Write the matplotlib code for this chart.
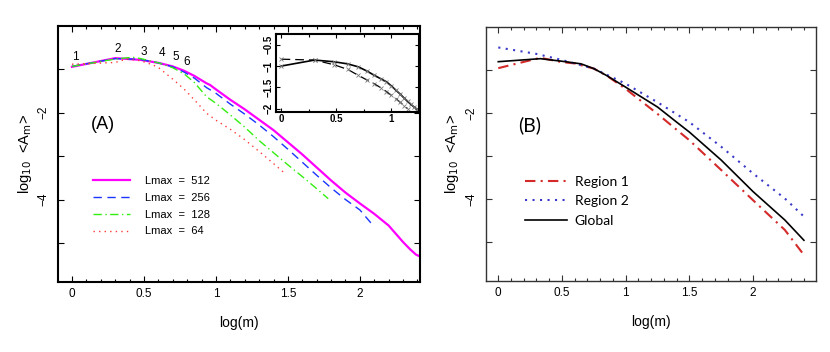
import matplotlib.pyplot as plt
import numpy as np

# ---- panel A: <A_m> for different Lmax ----
x512 = [0, 0.301, 0.477, 0.602, 0.699, 0.778, 0.85, 0.935, 0.96, 1.0, 1.1, 1.2, 1.3,
        1.4, 1.5, 1.6, 1.7, 1.8, 1.9, 2.0, 2.1, 2.2, 2.25, 2.3, 2.35, 2.39, 2.41]
y512 = [-0.94, -0.74, -0.78, -0.85, -0.93, -1.03, -1.15, -1.32, -1.36, -1.46, -1.70,
        -1.92, -2.16, -2.40, -2.68, -2.96, -3.26, -3.56, -3.84, -4.09, -4.33, -4.60,
        -4.79, -4.98, -5.15, -5.27, -5.30]
x256 = [0, 0.301, 0.477, 0.602, 0.699, 0.778, 0.85, 0.935, 1.0, 1.1, 1.2, 1.3, 1.4,
        1.5, 1.6, 1.7, 1.8, 1.9, 2.0, 2.1]
y256 = [-0.93, -0.75, -0.77, -0.85, -0.94, -1.06, -1.20, -1.42, -1.55, -1.80, -2.03,
        -2.28, -2.55, -2.84, -3.14, -3.44, -3.73, -4.00, -4.24, -4.63]
x128 = [0, 0.301, 0.42, 0.477, 0.602, 0.699, 0.778, 0.85, 0.935, 1.0, 1.1, 1.2, 1.3,
        1.4, 1.5, 1.6, 1.7, 1.78]
y128 = [-0.93, -0.76, -0.72, -0.75, -0.85, -0.96, -1.10, -1.30, -1.63, -1.78, -2.05,
        -2.33, -2.64, -2.92, -3.20, -3.47, -3.75, -3.98]
x64 = [0, 0.301, 0.38, 0.477, 0.565, 0.602, 0.699, 0.778, 0.85, 0.935, 1.0, 1.1, 1.2,
       1.3, 1.4, 1.48]
y64 = [-0.88, -0.84, -0.76, -0.80, -0.90, -0.96, -1.22, -1.45, -1.70, -2.01, -2.17,
       -2.38, -2.62, -2.89, -3.17, -3.40]
lmax_labels = ['Lmax  =  512', 'Lmax  =  256', 'Lmax  =  128', 'Lmax  =  64']

# m = 1..6 annotations
m_x = [0.026, 0.32, 0.50, 0.625, 0.72, 0.80]
m_y = [-0.72, -0.53, -0.59, -0.63, -0.72, -0.82]
m_txt = ['1', '2', '3', '4', '5', '6']

# inset
ins_x1 = [0, 0.301, 0.477, 0.602, 0.699, 0.778, 0.845, 0.903, 0.954, 1.0, 1.041,
          1.079, 1.114, 1.146, 1.176, 1.204, 1.23, 1.255]
ins_y1 = [-1.0, -0.86, -0.90, -0.95, -1.02, -1.12, -1.22, -1.30, -1.37, -1.47, -1.57,
          -1.66, -1.75, -1.83, -1.90, -1.96, -2.01, -2.05]
ins_x2 = [0, 0.301, 0.477, 0.602, 0.699, 0.778, 0.845, 0.903, 0.954, 1.0, 1.041,
          1.079, 1.114, 1.146]
ins_y2 = [-0.84, -0.86, -0.97, -1.08, -1.22, -1.33, -1.42, -1.51, -1.60, -1.69,
          -1.77, -1.85, -1.93, -2.0]

# ---- panel B: regions ----
r1_x = [0, 0.33, 0.5, 0.6, 0.75, 0.85, 1.0, 1.25, 1.5, 1.75, 2.0, 2.25, 2.4]
r1_y = [-0.96, -0.72, -0.82, -0.85, -0.97, -1.13, -1.44, -2.02, -2.63, -3.32, -4.02,
        -4.71, -5.29]
r2_x = [0, 0.3, 0.5, 0.75, 1.0, 1.25, 1.5, 1.75, 2.0, 2.25, 2.4]
r2_y = [-0.48, -0.63, -0.77, -0.97, -1.32, -1.75, -2.21, -2.78, -3.40, -3.98, -4.40]
gl_x = [0, 0.33, 0.5, 0.65, 0.75, 0.85, 1.0, 1.25, 1.4, 1.5, 1.75, 2.0, 2.25, 2.4]
gl_y = [-0.81, -0.74, -0.80, -0.86, -0.97, -1.13, -1.40, -1.86, -2.21, -2.44, -3.09,
        -3.82, -4.48, -4.95]

plt.rcParams['font.family'] = 'Liberation Sans'
fig = plt.figure(figsize=(8.3, 3.52), dpi=100)
axA = fig.add_axes([0.0699, 0.199, 0.436, 0.727])
axB = fig.add_axes([0.585, 0.201, 0.398, 0.723])
axI = fig.add_axes([0.3325, 0.683, 0.1723, 0.219])


def style(ax, lw, col):
    ax.set_ylim(-5.9, 0)
    ax.set_yticks([-5, -4, -3, -2, -1])
    ax.set_yticklabels(['', '\u22124', '', '\u22122', ''], rotation=90, va='center')
    ax.set_xticks([0, 0.5, 1, 1.5, 2])
    ax.set_xticklabels(['0', '0.5', '1', '1.5', '2'])
    ax.set_xticks(np.arange(0, 2.45, 0.1), minor=True)
    ax.tick_params(which='both', direction='in', top=True, right=True, labelsize=8.5,
                   color=col, width=0.8)
    ax.tick_params(which='major', length=4)
    ax.tick_params(axis='x', which='major', pad=4)
    ax.tick_params(axis='y', which='major', pad=6)
    ax.tick_params(which='minor', length=2.5)
    for s in ax.spines.values():
        s.set_linewidth(lw)
        s.set_color(col)
    ax.set_xlabel('log(m)', fontsize=10, labelpad=12)
    ax.set_ylabel(r'log$_{10}$  <A$_{\rm m}$>', fontsize=10.5, labelpad=3)


# panel A
axA.plot(x512, y512, color='#ff00ff', lw=1.6, label=lmax_labels[0])
axA.plot(x256, y256, color='#1a35ff', lw=1.0, dashes=(6, 4), label=lmax_labels[1])
axA.plot(x128, y128, color='#33ee11', lw=1.0, dashes=(6, 2.5, 1, 2.5), label=lmax_labels[2])
axA.plot(x64, y64, color='#ff3a3a', lw=1.0, dashes=(1, 3), label=lmax_labels[3])
axA.set_xlim(-0.097, 2.417)
style(axA, 1.5, 'black')
for xt, yt, t in zip(m_x, m_y, m_txt):
    axA.text(xt, yt, t, fontsize=8.5, ha='center', va='center')
axA.text(0.215, -2.28, '(A)', fontsize=13, ha='center', va='center')
axA.legend(loc='upper left', bbox_to_anchor=(0.097, 0.415), frameon=False, fontsize=8,
           handlelength=3.3, handletextpad=1.35, labelspacing=0.62, borderpad=0,
           borderaxespad=0)

# inset
axI.plot(ins_x1, ins_y1, color='black', lw=1.2, marker='x', ms=2.5, mec='#777777', mew=0.6)
axI.plot(ins_x2, ins_y2, color='black', lw=0.9, dashes=(7, 4), marker='x', ms=2.5,
         mec='#777777', mew=0.6)
axI.set_xlim(-0.05, 1.25)
axI.set_ylim(-2.07, -0.26)
axI.set_xticks([0, 0.5, 1])
axI.set_xticklabels(['0', '0.5', '1'])
axI.set_yticks([-2, -1.5, -1, -0.5])
axI.set_yticklabels(['\u22122', '\u22121.5', '\u22121', '\u22120.5'], rotation=90, va='center')
axI.set_xticks(np.arange(0, 1.25, 0.25), minor=True)
axI.tick_params(which='both', direction='in', top=True, right=True, labelsize=7,
                pad=2, width=0.8)
axI.tick_params(which='major', length=3)
axI.tick_params(which='minor', length=2)
for s in axI.spines.values():
    s.set_linewidth(1.5)
for lab in axI.get_xticklabels() + axI.get_yticklabels():
    lab.set_fontweight('bold')

# panel B
axB.plot(r1_x, r1_y, color='#d42a2a', lw=1.5, dashes=(5, 2.5, 1, 2.5), label='Region 1')
axB.plot(r2_x, r2_y, color='#3a3ac8', lw=1.5, dashes=(1, 2.6), label='Region 2')
axB.plot(gl_x, gl_y, color='black', lw=1.2, label='Global')
axB.set_xlim(-0.1, 2.494)
style(axB, 1.0, '#333333')
axB.text(0.25, -2.28, '(B)', fontsize=14, ha='center', va='center', family='Lato')
axB.legend(loc='upper left', bbox_to_anchor=(0.119, 0.415), frameon=False,
           prop={'family': 'Lato', 'size': 10}, handlelength=3.0, handletextpad=0.6,
           labelspacing=0.55, borderpad=0, borderaxespad=0)

fig.savefig('out.png', dpi=100)
